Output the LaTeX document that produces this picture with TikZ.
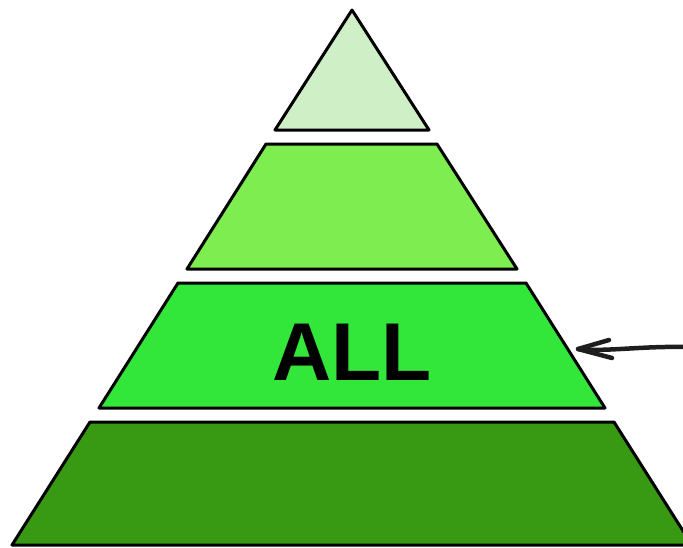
\documentclass[tikz,border=0pt]{standalone}
\usepackage{fontspec}
\setmainfont{Liberation Sans}
\definecolor{lvA}{RGB}{207,239,198}
\definecolor{lvB}{RGB}{125,237,80}
\definecolor{lvC}{RGB}{50,230,58}
\definecolor{lvD}{RGB}{56,153,18}
\definecolor{ink}{RGB}{30,30,30}
\tikzset{
  layer/.style={draw=black, line width=3pt, line join=round},
  pointer/.style={draw=ink, line width=4.5pt, line cap=round, line join=round}
}
\begin{document}
\begin{tikzpicture}[x=1pt,y=-1pt]
\useasboundingbox (0,0) rectangle (683,547);
\clip (0,0) rectangle (683,547);
% layers
\filldraw[layer, fill=lvA] (352,10) -- (429,130) -- (275,130) -- cycle;
\filldraw[layer, fill=lvB] (266,144) -- (437,144) -- (517,269) -- (187,269) -- cycle;
\filldraw[layer, fill=lvC] (178,283) -- (526,283) -- (605,408) -- (99,408) -- cycle;
\filldraw[layer, fill=lvD] (90,422) -- (614,422) -- (692,545) -- (12,545) -- cycle;
\node[font=\bfseries\fontsize{82}{82}\selectfont, inner sep=0pt, anchor=base] (all) at (352,380) {ALL};
% arrow
\coordinate (tail) at (686,347);
\coordinate (tip) at (578,349);
\draw[pointer] (tail) .. controls (640,346) and (605,352) .. (tip);
\draw[pointer] (609,340) -- (tip) -- (612,358);
\end{tikzpicture}
\end{document}
